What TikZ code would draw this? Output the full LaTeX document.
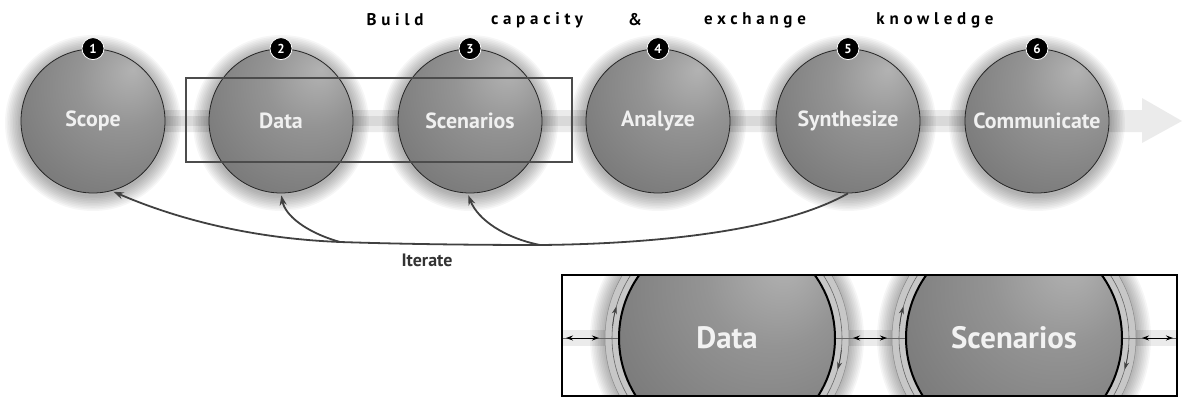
\documentclass[tikz,border=0pt]{standalone}
\usepackage{fontspec}
\setsansfont{PT Sans}
\usepackage{tikz}
\usetikzlibrary{arrows.meta,positioning,calc}
\pgfdeclareradialshading{orb}{\pgfpoint{14bp}{18bp}}{color(0bp)=(black!30); color(16bp)=(black!42); color(45bp)=(black!56); color(72bp)=(black!70)}

\begin{document}
\begin{tikzpicture}[x=1bp, y=1bp,
  main node/.style={circle,draw=black!85,line width=0.8bp,minimum size=144bp,inner sep=0pt,shading=orb,text=black!6,font=\sffamily\bfseries\fontsize{22}{22}\selectfont},
  num node/.style={circle,fill=black,draw=white,line width=0.8bp,minimum size=22bp,inner sep=0pt,text=white,font=\sffamily\bfseries\fontsize{13}{13}\selectfont},
  word node/.style={text=black,font=\sffamily\bfseries\fontsize{17}{17}\selectfont\addfontfeature{LetterSpace=28}},
  big node/.style={circle,draw=black,line width=2bp,minimum size=216bp,inner sep=0pt,shading=orb,text=black!5,font=\sffamily\bfseries\fontsize{31}{31}\selectfont},
  iter line/.style={line width=1.8bp,draw=black!75,-{Stealth[length=10bp,width=7bp]},shorten >=2bp},
  swap arrow/.style={line width=0.9bp,{Stealth[length=7bp,width=5bp]}-{Stealth[length=7bp,width=5bp]}}]
\useasboundingbox (0,0) rectangle (1183,398);

% flow band
\fill[black!8] (160,266) -- (1142,266) -- (1142,255) -- (1182,277) -- (1142,300) -- (1142,288) -- (160,288) -- cycle;
\fill[black!15] (160,272) rectangle (1100,282);

\begin{scope}
\foreach \n/\x/\t in {1/93/Scope,2/281/Data,3/470/Scenarios,4/658/Analyze,5/848/Synthesize,6/1037/Communicate}{
  \foreach \k in {1,...,10}
    \fill[black,opacity=0.035] (\x,275) circle (72+\k*1.6);
  \node[main node] (v\n) at (\x,277) {\t};
  \node[num node] (n\n) at (v\n.north) {\n};
}
\end{scope}

\draw[black!70,line width=1.5bp] (186,236) rectangle (572,320);

\node[word node] (w1) at (395,378) {Build};
\node[word node] (w2) at (537,378) {capacity};
\node[word node] (w3) at (635,378) {\&};
\node[word node] (w4) at (755,378) {exchange};
\node[word node] (w5) at (935,378) {knowledge};

% iterate
\coordinate (j2) at (340,156);
\coordinate (j3) at (540,153);
\draw[iter line] (v5.south) .. controls (780,166) and (650,154) .. (j3) .. controls (470,153) and (400,154) .. (j2) .. controls (240,160) and (165,184) .. (v1.-75);
\draw[iter line] (j2) .. controls (305,166) and (285,183) .. (v2.south);
\draw[iter line] (j3) .. controls (505,160) and (478,178) .. (v3.-92);
\node[text=black!80,font=\sffamily\bfseries\fontsize{18}{18}\selectfont] (it) at (427,138) {Iterate};

% close-up
\begin{scope}
\clip (562,2) rectangle (1177,123);
\fill[black!8] (562,52) rectangle (1177,68);
\foreach \x in {727,1014}{
  \foreach \k in {1,...,10}
    \fill[black,opacity=0.035] (\x,60) circle (121+\k*1.6);
  \fill[black!22] (\x,60) circle (122);
  \draw[black!45,line width=0.5bp] (\x,60) circle (122);
  \draw[black!60,line width=0.6bp] (\x,60) circle (115);
}
\draw[black!60,line width=0.5bp] (562,60) -- (1177,60);
\node[big node] (d) at (727,60) {Data};
\node[big node] (s) at (1014,60) {Scenarios};
\foreach \c in {d,s}{
  \draw[black!75,line width=0.7bp,-{Stealth[length=8bp,width=5bp]}] (\c.center) ++(174:115) arc (174:164:115);
  \draw[black!75,line width=0.7bp,-{Stealth[length=8bp,width=5bp]}] (\c.center) ++(-6:115) arc (-6:-16:115);
}
\coordinate (a1) at (566,60);
\coordinate (a2) at (599,60);
\coordinate (b1) at (853,60);
\coordinate (b2) at (887,60);
\coordinate (c1) at (1142,60);
\coordinate (c2) at (1173,60);
\draw[swap arrow] (a1) -- (a2);
\draw[swap arrow] (b1) -- (b2);
\draw[swap arrow] (c1) -- (c2);
\end{scope}
\draw[black,line width=1.5bp] (562,2) rectangle (1177,123);
\end{tikzpicture}
\end{document}
